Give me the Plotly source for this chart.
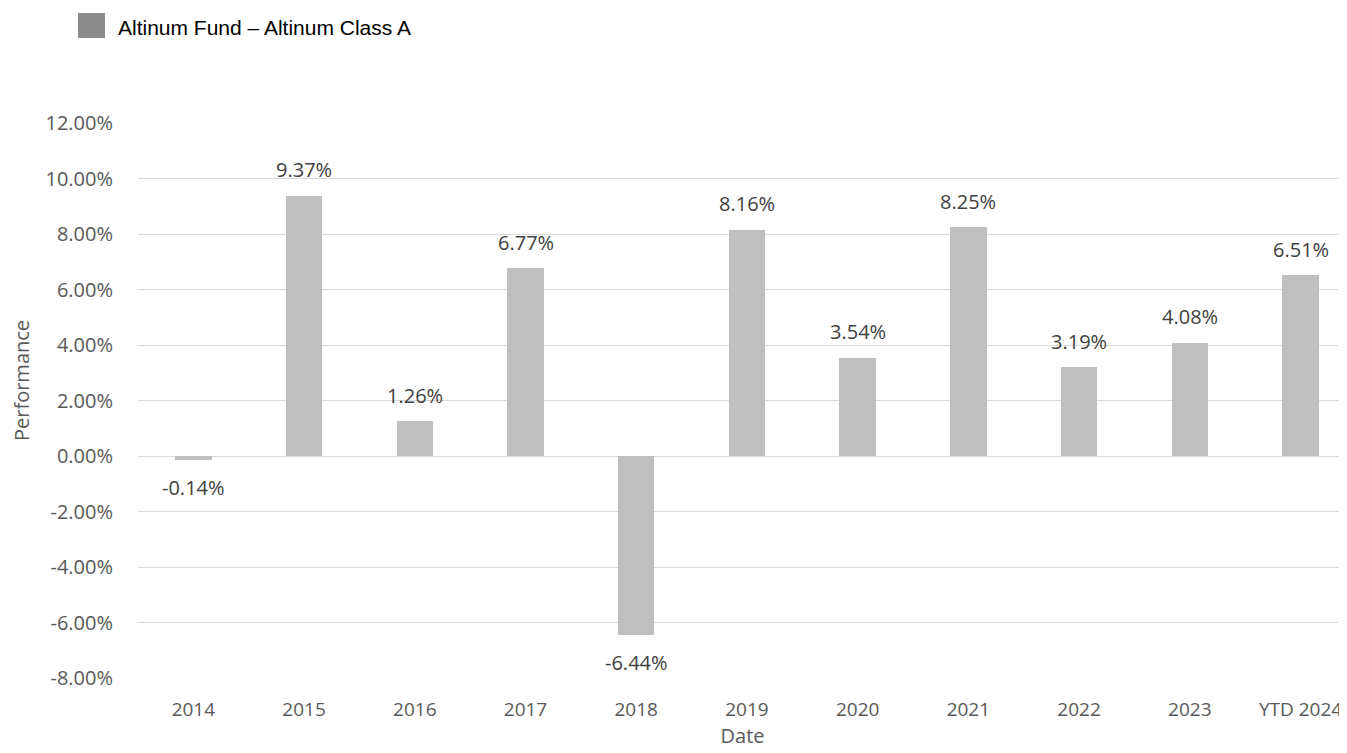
import plotly.graph_objects as go

categories = ["2014", "2015", "2016", "2017", "2018", "2019", "2020", "2021", "2022", "2023", "YTD 2024"]
performance = [-0.14, 9.37, 1.26, 6.77, -6.44, 8.16, 3.54, 8.25, 3.19, 4.08, 6.51]
labels = [f"{v:.2f}%" for v in performance]
y_ticks = [-8, -6, -4, -2, 0, 2, 4, 6, 8, 10, 12]
y_tick_text = [f"{v:.2f}%" for v in y_ticks]
series_name = "Altinum Fund \u2013 Altinum Class A"

FONT = "Open Sans"
BAR = "#bfbfbf"

# the page body has an 8px default margin; work in window pixels and shift
OFF = 8
W, H = 1347 - OFF, 753 - OFF
ML, MR, MT, MB = 138 - OFF, 0, 123 - OFF, 75


def px_x(px):
    return (px - OFF - ML) / (W - ML - MR)


def px_y(py):
    return (H - MB - (py - OFF)) / (H - MT - MB)


fig = go.Figure()
fig.add_trace(go.Bar(
    x=list(range(len(categories))), y=performance,
    marker=dict(color=BAR, line=dict(width=0)),
    width=0.33, showlegend=False, hoverinfo="skip",
))

annotations = []
for i, (v, t) in enumerate(zip(performance, labels)):
    annotations.append(dict(
        x=i, y=v, xref="x", yref="y", text=t, showarrow=False,
        xanchor="center", yanchor="middle", yshift=26 if v >= 0 else -28,
        font=dict(family=FONT, size=20, color="#404040"),
    ))

annotations.append(dict(
    x=px_x(21), y=px_y(381), xref="paper", yref="paper", text="Performance",
    showarrow=False, textangle=-90, xanchor="center", yanchor="middle",
    font=dict(family=FONT, size=20, color="#595959"),
))
annotations.append(dict(
    x=px_x(116), y=px_y(27), xref="paper", yref="paper", text=series_name,
    showarrow=False, xanchor="left", yanchor="middle",
    font=dict(family="Liberation Sans, Arial", size=21, color="#000000"),
))

fig.update_layout(
    width=W, height=H,
    margin=dict(l=ML, r=MR, t=MT, b=MB, autoexpand=False),
    paper_bgcolor="white", plot_bgcolor="white",
    font=dict(family=FONT, size=20, color="#595959"),
    bargap=0,
    annotations=annotations,
    shapes=[dict(
        type="rect", xref="paper", yref="paper",
        x0=px_x(78), x1=px_x(105), y0=px_y(13), y1=px_y(38),
        fillcolor="#8c8c8c", line=dict(width=0),
    )],
    xaxis=dict(
        tickmode="array", tickvals=list(range(len(categories))), ticktext=categories,
        range=[-0.5, 10.42], showgrid=False, zeroline=False, showline=False,
        ticks="outside", ticklen=14, tickcolor="rgba(0,0,0,0)",
        tickfont=dict(family=FONT, size=19, color="#595959"),
        title=dict(text="Date", font=dict(family=FONT, size=20, color="#595959"), standoff=6),
    ),
    yaxis=dict(
        range=[-8, 12], tickmode="array", tickvals=y_ticks, ticktext=y_tick_text,
        showgrid=True, gridcolor="#d9d9d9", gridwidth=1.3,
        zeroline=True, zerolinecolor="#d9d9d9", zerolinewidth=1.3, showline=False,
        ticks="outside", ticklen=20, tickcolor="rgba(0,0,0,0)",
        tickfont=dict(family=FONT, size=20, color="#595959"),
    ),
)

fig.write_html("out.html")
